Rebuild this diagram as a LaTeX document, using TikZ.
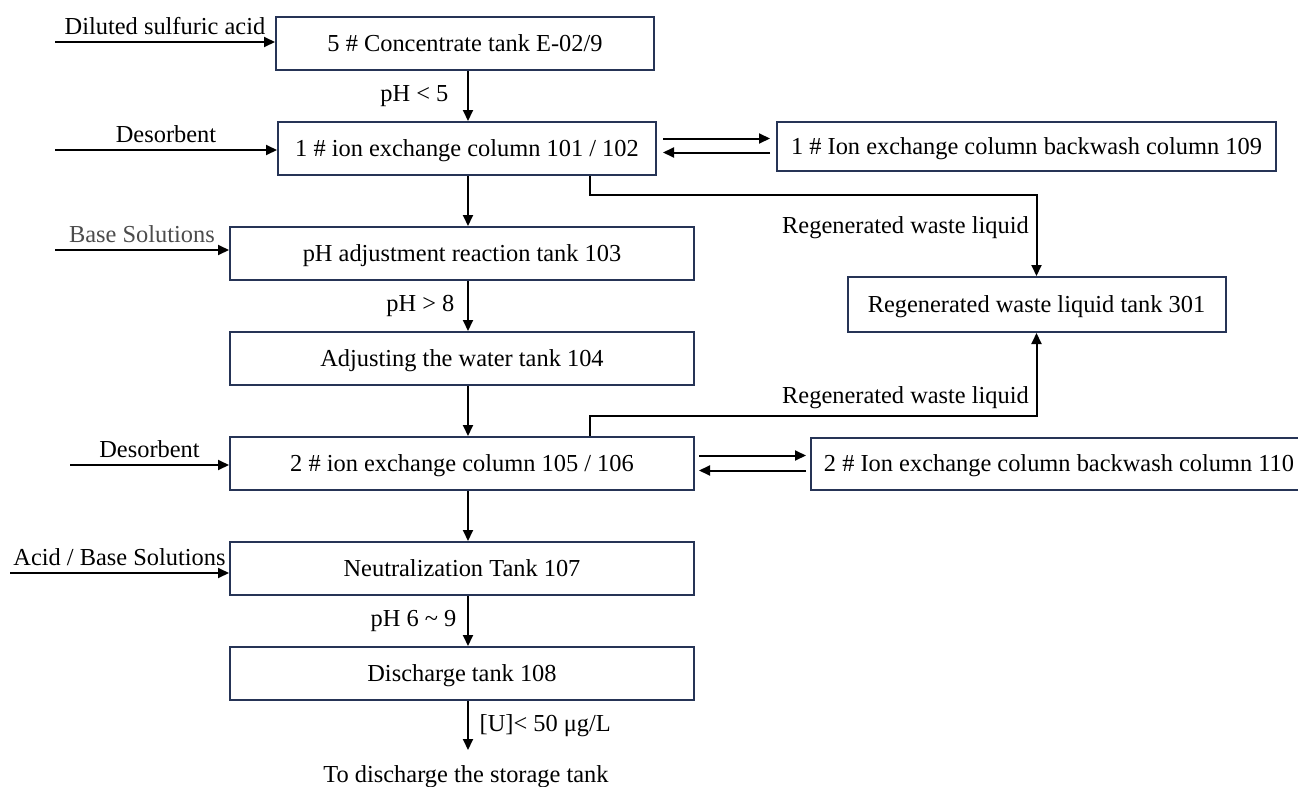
\documentclass[tikz,border=0pt]{standalone}
\usepackage{fontspec}
\setmainfont{Liberation Serif}
\usetikzlibrary{arrows, arrows.meta, positioning}

\definecolor{tankline}{RGB}{38,52,86}

\begin{document}
\begin{tikzpicture}[x = 0.5pt, y = -0.5pt, % one unit is one pixel
                > = {Triangle[length = 5.5pt, width = 5pt]}, % arrow head style
                node distance = 52.5pt, % distance between tanks
                line width = 1pt % line style
            ]

            \useasboundingbox (0,0) rectangle (1298,787);

            \tikzstyle{every node}=[font = \fontsize{12.2}{15}\selectfont]
            \tikzstyle{tank}=[draw = tankline, rectangle, inner sep = 2pt,
            minimum width = 232pt, minimum height = 26.5pt, text depth = 0.5pt]
            \tikzstyle{smalltank}=[tank, minimum width = 189pt]

            % main line
            \node[smalltank] (e029) at (465,43.5) {5 \# Concentrate tank E-02/9};
            \node[smalltank] (c101) [below of=e029, xshift=1pt] {1 \# ion exchange column 101 / 102};
            \node[tank] (t103) [below of=c101, xshift=-2.5pt] {pH adjustment reaction tank 103};
            \node[tank] (t104) [below of=t103] {Adjusting the water tank 104};
            \node[tank] (c105) [below of=t104] {2 \# ion exchange column 105 / 106};
            \node[tank] (t107) [below of=c105] {Neutralization Tank 107};
            \node[tank] (t108) [below of=t107] {Discharge tank 108};
            \node (out) at (466,777) {To discharge the storage tank};

            % side tanks
            \node[tank, minimum width = 249.5pt, minimum height = 24.5pt] (c109)
            at (1026.5,146.5) {1 \# Ion exchange column backwash column 109};
            \node[smalltank, minimum height = 27.5pt] (t301) at (1036.5,304.5)
            {Regenerated waste liquid tank 301};
            \node[tank, minimum width = 248pt, minimum height = 26pt] (c110)
            at (1059,464) {2 \# Ion exchange column backwash column 110};

            % feeds
            \coordinate (f1) at (55,42); \coordinate (f2) at (55,150);
            \coordinate (f3) at (55,250); \coordinate (f4) at (70,465);
            \coordinate (f5) at (10,573);
            \draw[->] (f1) -- node[above] {Diluted sulfuric acid} (f1 -| e029.west);
            \draw[->] (f2) -- node[above] {Desorbent} (f2 -| c101.west);
            \draw[->] (f3) -- node[above, text = black!70] {Base Solutions} (f3 -| t103.west);
            \draw[->] (f4) -- node[above] {Desorbent} (f4 -| c105.west);
            \draw[->] (f5) -- node[above] {Acid / Base Solutions} (f5 -| t107.west);

            % down the line
            \coordinate (axis) at (468,0);
            \draw[->] (e029.south -| axis) -- node[left, xshift=-6pt] {pH < 5} (c101.north -| axis);
            \draw[->] (c101.south -| axis) -- (t103.north -| axis);
            \draw[->] (t103.south -| axis) -- node[left, xshift=-3pt] {pH > 8} (t104.north -| axis);
            \draw[->] (t104.south -| axis) -- (c105.north -| axis);
            \draw[->] (c105.south -| axis) -- (t107.north -| axis);
            \draw[->] (t107.south -| axis) -- node[left, xshift=-2pt] {pH 6 \textasciitilde{} 9} (t108.north -| axis);
            \draw[->] (t108.south -| axis) -- node[right, xshift=2pt] {[U]< 50 μg/L} (axis |- 0,750);

            % backwash
            \draw[->, shorten < = 3pt, shorten > = 3pt] ([yshift=5pt]c101.east) -- ([yshift=5pt]c101.east -| c109.west);
            \draw[->, shorten < = 3pt, shorten > = 3pt] ([yshift=-2pt]c101.east -| c109.west) -- ([yshift=-2pt]c101.east);
            \draw[->, shorten < = 2pt, shorten > = 2pt] ([yshift=4pt]c105.east) -- ([yshift=4pt]c105.east -| c110.west);
            \draw[->, shorten < = 2pt, shorten > = 2pt] ([yshift=-3.5pt]c105.east -| c110.west) -- ([yshift=-3.5pt]c105.east);

            % waste liquid
            \coordinate (w1) at (590,195); \coordinate (w2) at (590,416);
            \draw[->] (c101.south -| w1) -- (w1) -| node[pos=0.7, left] {Regenerated waste liquid} (t301.north);
            \draw[->] (c105.north -| w2) -- (w2) -| node[pos=0.5, above left] {Regenerated waste liquid} (t301.south);
\end{tikzpicture}
\end{document}
